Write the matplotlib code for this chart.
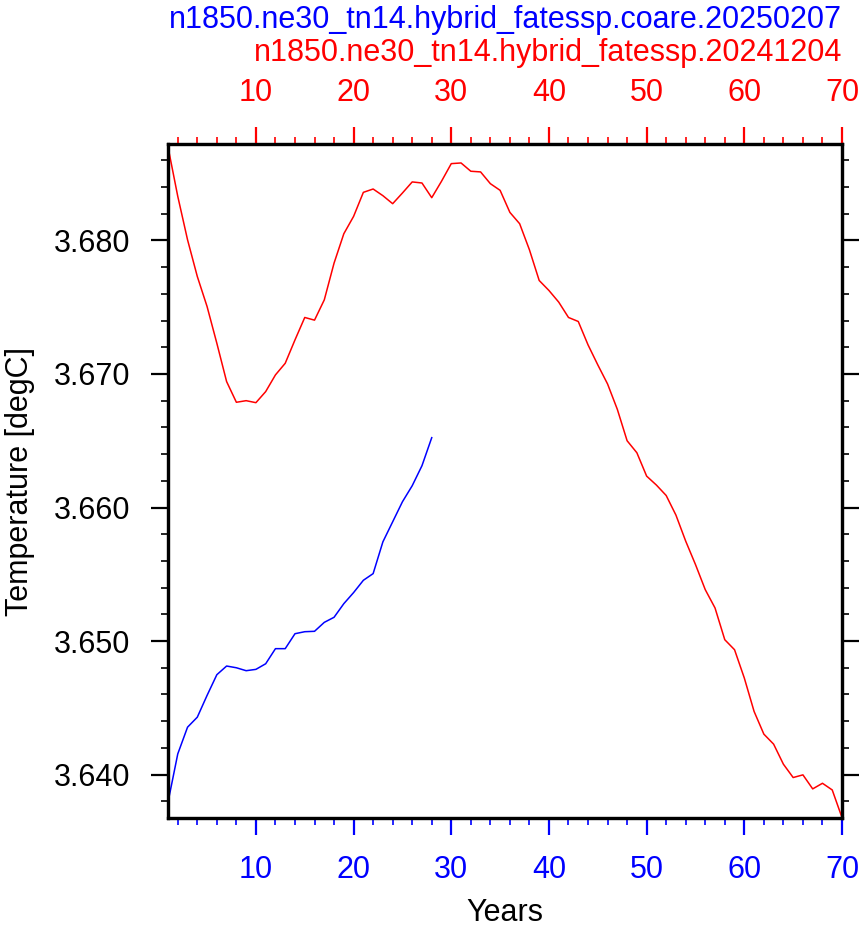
import matplotlib
matplotlib.use("Agg")
import matplotlib.pyplot as plt
from matplotlib.ticker import MultipleLocator, FormatStrFormatter

plt.rcParams['font.family'] = ['Liberation Sans', 'DejaVu Sans']

# Data
years_red = list(range(1, 71))
temp_red = [3.68700, 3.68330, 3.68005, 3.67730, 3.67505, 3.67230, 3.66943, 3.66788, 3.66800, 3.66785,
            3.66868, 3.66993, 3.67080, 3.67255, 3.67423, 3.67403, 3.67555, 3.67830, 3.68050, 3.68180,
            3.68360, 3.68385, 3.68335, 3.68275, 3.68355, 3.68438, 3.68430, 3.68320, 3.68443, 3.68575,
            3.68580, 3.68518, 3.68513, 3.68425, 3.68375, 3.68210, 3.68125, 3.67930, 3.67700, 3.67625,
            3.67538, 3.67423, 3.67393, 3.67218, 3.67068, 3.66925, 3.66735, 3.66500, 3.66410, 3.66235,
            3.66168, 3.66090, 3.65943, 3.65748, 3.65573, 3.65385, 3.65248, 3.65010, 3.64935, 3.64723,
            3.64473, 3.64303, 3.64228, 3.64078, 3.63978, 3.63998, 3.63893, 3.63935, 3.63885, 3.63678]

years_blue = list(range(1, 29))
temp_blue = [3.63793, 3.64155, 3.64355, 3.64430, 3.64593, 3.64748, 3.64813, 3.64800, 3.64778, 3.64788,
             3.64830, 3.64943, 3.64943, 3.65055, 3.65070, 3.65073, 3.65140, 3.65178, 3.65280, 3.65363,
             3.65455, 3.65505, 3.65743, 3.65893, 3.66043, 3.66163, 3.66313, 3.66523]

title_blue = "n1850.ne30_tn14.hybrid_fatessp.coare.20250207"
title_red = "n1850.ne30_tn14.hybrid_fatessp.20241204"
xlabel = "Years"
ylabel = "Temperature [degC]"

W, H = 866, 932
fig = plt.figure(figsize=(W / 100, H / 100), dpi=100)
L, R, T, B = 168, 842, 144, 818
ax = fig.add_axes([L / W, (H - B) / H, (R - L) / W, (B - T) / H])

fs = 22
ax.plot(years_blue, temp_blue, color='blue', lw=1.1)
ax.set_xlim(1, 70)
ax.set_ylim(3.63675, 3.68722)

ax2 = ax.twiny()
ax2.plot(years_red, temp_red, color='red', lw=1.1)
ax2.set_xlim(1, 70)

for a in (ax, ax2):
    for s in a.spines.values():
        s.set_linewidth(2.3)
        s.set_color('black')

ax.xaxis.set_major_locator(MultipleLocator(10))
ax.xaxis.set_minor_locator(MultipleLocator(2))
ax2.xaxis.set_major_locator(MultipleLocator(10))
ax2.xaxis.set_minor_locator(MultipleLocator(2))
ax.yaxis.set_major_locator(MultipleLocator(0.01))
ax.yaxis.set_minor_locator(MultipleLocator(0.002))
ax.yaxis.set_major_formatter(FormatStrFormatter('%.3f'))

ax.tick_params(axis='x', which='both', direction='out', colors='blue', labelsize=fs, top=False)
ax.tick_params(axis='x', which='major', length=12, width=1.6, pad=15)
ax.tick_params(axis='x', which='minor', length=5, width=1.2)
ax2.tick_params(axis='x', which='both', direction='out', colors='red', labelsize=fs, bottom=False)
ax2.tick_params(axis='x', which='major', length=12, width=1.6, pad=14)
ax2.tick_params(axis='x', which='minor', length=5, width=1.2)
ax.tick_params(axis='y', which='both', direction='out', left=True, right=True,
               labelright=False, labelsize=fs, colors='black')
ax.tick_params(axis='y', which='major', length=12, width=1.6, pad=15)
ax.tick_params(axis='y', which='minor', length=5, width=1.2)

ax.set_xlabel(xlabel, fontsize=fs, labelpad=9)
ax.set_ylabel(ylabel, fontsize=fs, labelpad=14)

fig.text(R / W, 1 - 20 / H, title_blue, color='blue', fontsize=fs, ha='right', va='center')
fig.text(R / W, 1 - 53 / H, title_red, color='red', fontsize=fs, ha='right', va='center')

fig.savefig("out.png", dpi=100)
